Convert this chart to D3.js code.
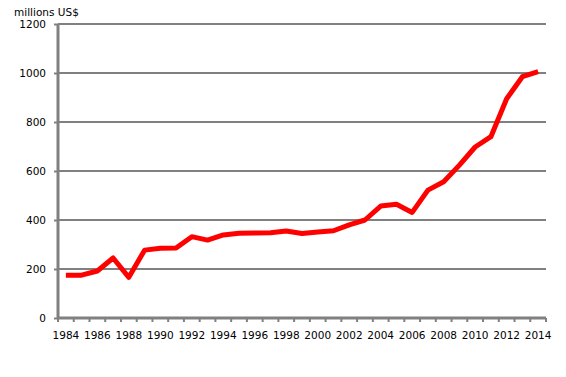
<!DOCTYPE html>
<html>
<head>
<meta charset="utf-8">
<script src="https://cdn.jsdelivr.net/npm/d3@7"></script>
<style>
  body { margin: 0; background: #fff; }
  text { font-family: "DejaVu Sans", sans-serif; font-size: 10.5px; fill: #000; }
</style>
</head>
<body>
<div id="chart"></div>
<script>

// Data
var years = d3.range( 1984, 2015 );
var values = [ 175, 175, 192, 245, 166, 277, 285, 286, 332, 318,
               339, 346, 347, 348, 355, 345, 351, 356, 380, 400,
               457, 464, 431, 522, 556, 624, 698, 740, 895, 985, 1006 ];
var y_ticks = [ 0, 200, 400, 600, 800, 1000, 1200 ];
var y_label = 'millions US$';

var w = 566, h = 377;
var margin = { top: 24, right: 20, bottom: 59, left: 58 };
var width = w - margin.left - margin.right;
var height = h - margin.top - margin.bottom;

var x = d3.scaleBand().domain( years ).range( [0, width] );
var y = d3.scaleLinear().domain( [0, 1200] ).range( [height, 0] );

var svg = d3.select( '#chart' )
            .append( 'svg' )
            .attr( 'width', w )
            .attr( 'height', h )
            .append( 'g' )
            .attr( 'transform', 'translate(' + margin.left + ',' + margin.top + ')' );

// Gridlines
svg.selectAll( '.grid' )
   .data( y_ticks.slice( 1 ) )
   .enter().append( 'line' )
   .attr( 'x1', 0 )
   .attr( 'x2', width )
   .attr( 'y1', function ( d ) { return y( d ); } )
   .attr( 'y2', function ( d ) { return y( d ); } )
   .attr( 'stroke', '#808080' )
   .attr( 'stroke-width', 2 );

// Y axis
var yAxis = svg.append( 'g' )
               .call( d3.axisLeft( y ).tickValues( y_ticks ).tickFormat( d3.format( 'd' ) ).tickSize( 4 ).tickPadding( 8 ) );
yAxis.select( '.domain' ).remove();
yAxis.selectAll( '.tick line' ).attr( 'stroke', '#808080' ).attr( 'stroke-width', 2 );
yAxis.selectAll( 'text' ).style( 'font-size', '10.5px' ).style( 'font-family', '"DejaVu Sans", sans-serif' );

svg.append( 'line' )
   .attr( 'x1', 0 ).attr( 'x2', 0 )
   .attr( 'y1', 0 ).attr( 'y2', height )
   .attr( 'stroke', '#808080' )
   .attr( 'stroke-width', 3 );

// X axis: tick marks at category boundaries, labels every other year
var bounds = years.map( function ( d ) { return x( d ); } ).concat( [width] );
var xg = svg.append( 'g' ).attr( 'transform', 'translate(0,' + height + ')' );
xg.selectAll( '.xt' )
  .data( bounds )
  .enter().append( 'line' )
  .attr( 'x1', function ( d ) { return d; } )
  .attr( 'x2', function ( d ) { return d; } )
  .attr( 'y1', 0 )
  .attr( 'y2', 4 )
  .attr( 'stroke', '#808080' )
  .attr( 'stroke-width', 2 );
xg.append( 'line' )
  .attr( 'x1', 0 ).attr( 'x2', width )
  .attr( 'stroke', '#808080' )
  .attr( 'stroke-width', 3 );
xg.selectAll( '.xl' )
  .data( years.filter( function ( d ) { return d % 2 === 0; } ) )
  .enter().append( 'text' )
  .attr( 'x', function ( d ) { return x( d ) + x.bandwidth() / 2; } )
  .attr( 'y', 21 )
  .attr( 'text-anchor', 'middle' )
  .text( function ( d ) { return d; } );

// Line
var line = d3.line()
             .x( function ( d, i ) { return x( years[i] ) + x.bandwidth() / 2; } )
             .y( function ( d ) { return y( d ); } );

svg.append( 'path' )
   .datum( values )
   .attr( 'd', line )
   .attr( 'fill', 'none' )
   .attr( 'stroke', '#ff0000' )
   .attr( 'stroke-width', 5 )
   .attr( 'stroke-linejoin', 'round' );

// Axis title
svg.append( 'text' )
   .attr( 'x', -44 )
   .attr( 'y', -8 )
   .text( y_label );

</script>
</body>
</html>
